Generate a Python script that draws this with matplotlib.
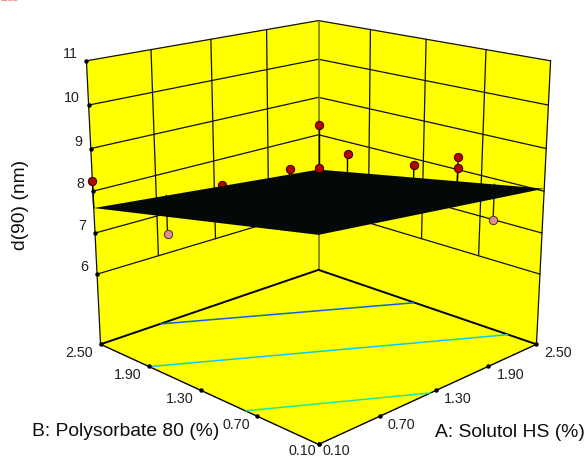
import matplotlib
matplotlib.use("Agg")
import matplotlib.pyplot as plt
import numpy as np
from mpl_toolkits.mplot3d import proj3d
from mpl_toolkits.mplot3d.art3d import Poly3DCollection

plt.rcParams['font.family'] = ['Liberation Sans', 'DejaVu Sans']

# ---- data ----
a_ticks = [0.10, 0.70, 1.30, 1.90, 2.50]
b_ticks = [0.10, 0.70, 1.30, 1.90, 2.50]
z_ticks = [6, 7, 8, 9, 10, 11]
z_floor = 4.25
a_edges = [0.10, 2.50]
b_edges = [0.10, 2.50]
# fitted surface at the four corners (rows: B, cols: A)
surface_z = [[8.67, 8.06], [7.60, 7.055]]
# field behind the floor contours
contour_z = [[8.92, 8.14], [7.69, 6.92]]
contour_levels = [7.5, 8.0, 8.55]
contour_colors = ['#1060e0', '#10c8f0', '#20e8a0']

# design points above the surface
up_a = [0.10, 1.38, 2.15, 2.50, 2.50, 2.50, 2.50, 2.50, 2.50]
up_b = [2.50, 2.50, 2.50, 2.50, 2.50, 2.15, 1.40, 0.94, 0.94]
up_z = [8.25, 7.35, 7.27, 8.27, 7.11, 7.68, 7.85, 8.30, 8.05]
up_fit = [7.61, 7.30, 7.12, 7.055, 7.055, 7.19, 7.51, 7.71, 7.71]
# design points below the surface
low_a = [0.80, 2.50]
low_b = [2.50, 0.57]
low_z = [6.48, 6.98]
low_fit = [7.45, 7.87]

xlabel = 'A: Solutol HS (%)'
ylabel = 'B: Polysorbate 80 (%)'
zlabel = 'd(90) (nm)'

# ---- figure ----
W, H = 585, 457
fig = plt.figure(figsize=(W / 100, H / 100), dpi=100)
AW = 523
fig_left = 318.5 - 0.5135 * AW
fig_top = 207 - (1 - 0.5135) * AW
ax = fig.add_axes([fig_left / W, (H - fig_top - AW) / H, AW / W, AW / H],
                  projection='3d', computed_zorder=False)
ax.set_proj_type('persp', focal_length=0.5)
ax.set_box_aspect((0.158, 0.158, 0.1475))
ax._dist = 8.6
ax.view_init(elev=17.4, azim=-135)
ax.set_axis_off()

x0, x1 = a_edges
y0, y1 = b_edges
z0, z1 = z_floor, z_ticks[-1]


def setlims():
    ax.set_xlim(x0, x1)
    ax.set_ylim(y0, y1)
    ax.set_zlim(z0, z1)


setlims()

YEL = '#ffff00'
panes = [
    [(x0, y0, z0), (x1, y0, z0), (x1, y1, z0), (x0, y1, z0)],
    [(x0, y1, z0), (x1, y1, z0), (x1, y1, z1), (x0, y1, z1)],
    [(x1, y0, z0), (x1, y1, z0), (x1, y1, z1), (x1, y0, z1)],
]
ax.add_collection3d(Poly3DCollection(panes, facecolors=YEL, edgecolors=YEL,
                                     linewidths=0.3, zorder=1))


def line(xs, ys, zs, lw=0.9, color='#101010', zorder=2):
    ax.plot(xs, ys, zs, color=color, lw=lw, zorder=zorder, clip_on=False,
            solid_capstyle='round')


# wall grid
for z in z_ticks:
    line([x0, x1], [y1, y1], [z, z])
    line([x1, x1], [y0, y1], [z, z])
for t in a_ticks[1:-1]:
    line([t, t], [y1, y1], [z_ticks[0], z1])
for t in b_ticks[1:-1]:
    line([x1, x1], [t, t], [z_ticks[0], z1])
line([x1, x1], [y1, y1], [z0, z1], lw=1.2, color='#7a7a00')
# box edges
line([x0, x0], [y1, y1], [z0, z1])
line([x1, x1], [y0, y0], [z0, z1])
line([x0, x1], [y1, y1], [z0, z0], lw=1.4, color='black')
line([x1, x1], [y0, y1], [z0, z0], lw=1.4, color='black')
line([x0, x0], [y0, y1], [z0, z0], lw=1.0, color='black')
line([x0, x1], [y0, y0], [z0, z0], lw=1.0, color='black')

# floor contours
X, Y = np.meshgrid(a_edges, b_edges)
ax.contour(X, Y, np.array(contour_z), levels=contour_levels, colors=contour_colors,
           linewidths=1.1, zdir='z', offset=z0, zorder=3)

# points under the surface and their stems
for a, b, z, f in zip(low_a, low_b, low_z, low_fit):
    line([a, a], [b, b], [z, f], lw=1.0, color='#202000', zorder=4)
ax.plot(low_a, low_b, low_z, ls='none', marker='o', ms=6, mfc='#e08c90', mec='#503030',
        mew=0.7, zorder=4, clip_on=False)
# the point hidden in part behind the surface edge
ax.plot(up_a[1:2], up_b[1:2], up_z[1:2], ls='none', marker='o', ms=6, mfc='#b80000', mec='#300000',
        mew=0.7, zorder=4, clip_on=False)

# response surface
ax.plot_surface(X, Y, np.array(surface_z), color='#040806', shade=False, linewidth=0,
                antialiased=True, zorder=5)

# points over the surface
for i, (a, b, z, f) in enumerate(zip(up_a, up_b, up_z, up_fit)):
    if i == 1:
        continue
    line([a, a], [b, b], [z, f], lw=1.0, color='black', zorder=6)
    ax.plot([a], [b], [z], ls='none', marker='o', ms=6, mfc='#b80000', mec='#300000',
            mew=0.7, zorder=7, clip_on=False)

# tick dots
ax.plot([x0] * len(z_ticks), [y1] * len(z_ticks), z_ticks, ls='none', marker='o', ms=2.2,
        color='black', zorder=3, clip_on=False)
ax.plot(a_ticks, [y0] * 5, [z0] * 5, ls='none', marker='o', ms=2.2, color='black', zorder=3,
        clip_on=False)
ax.plot([x0] * 5, b_ticks, [z0] * 5, ls='none', marker='o', ms=2.2, color='black', zorder=3,
        clip_on=False)
setlims()

M = ax.get_proj()


def label(text, x, y, z, dx, dy, ha='center', va='center', size=10.3):
    px, py, _ = proj3d.proj_transform(x, y, z, M)
    ax.annotate(text, xy=(px, py), xytext=(dx, dy), textcoords='offset pixels', ha=ha, va=va,
                fontsize=size, color='#202020', annotation_clip=False, zorder=8)


for z in z_ticks:
    label(str(z), x0, y1, z, -9, 7, ha='right')
for i, t in enumerate(a_ticks):
    label(f'{t:.2f}', t, y0, z0, 18 if i == 0 else 22, -7 if i == 0 else -9)
for i, t in enumerate(b_ticks):
    label(f'{t:.2f}', x0, t, z0, -16.5 if i == 0 else -21, -7 if i == 0 else -9)

fig.text(126 / W, 1 - 432 / H, ylabel, ha='center', va='center', fontsize=13.9, color='#101010')
fig.text(510 / W, 1 - 432.5 / H, xlabel, ha='center', va='center', fontsize=13.9, color='#101010')
fig.text(21 / W, 1 - 205 / H, zlabel, ha='center', va='center', rotation=90, fontsize=13.9,
         color='#101010')
fig.text(0.0, 1 + 2 / H, 'Liao', ha='left', va='center', fontsize=7, color='#ee3333', alpha=0.7)

fig.savefig('out.png', dpi=100)
